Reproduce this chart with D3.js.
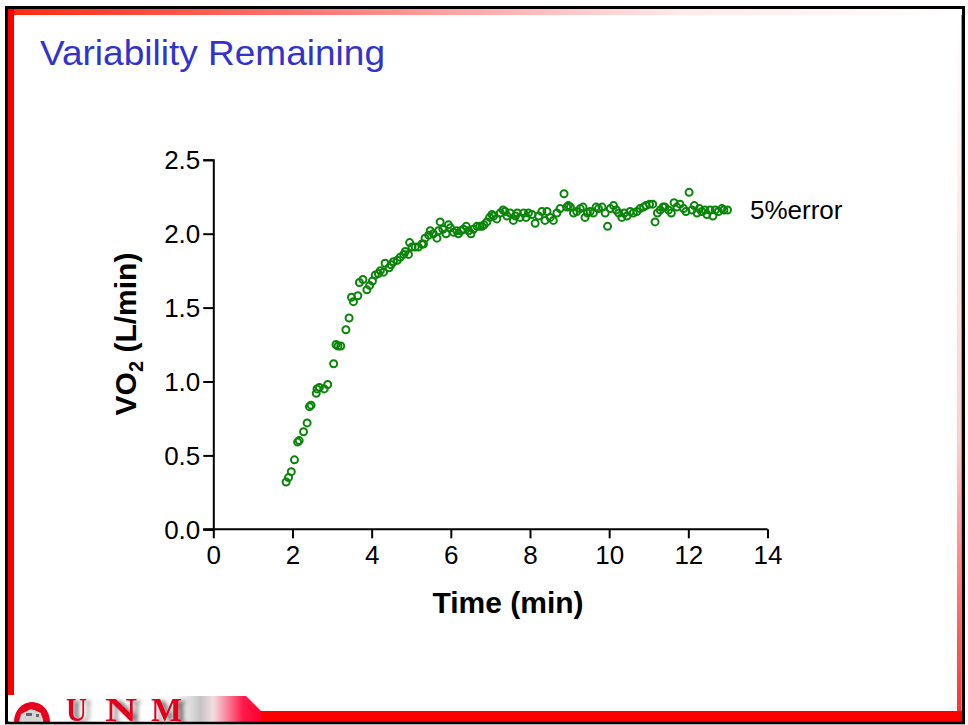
<!DOCTYPE html>
<html>
<head>
<meta charset="utf-8">
<script src="https://cdn.jsdelivr.net/npm/d3@7"></script>
<style>
  html, body { margin: 0; padding: 0; background: #fff; }
  svg { display: block; }
</style>
</head>
<body>
<svg id="slide" width="968" height="725"></svg>
<script>
// Breath-by-breath oxygen uptake during constant-load exercise
const timeMin = [
  1.84, 1.90, 1.97, 2.05, 2.13, 2.17, 2.28, 2.37, 2.43, 2.47,
  2.60, 2.62, 2.68, 2.80, 2.89, 3.04, 3.10, 3.15, 3.22, 3.35,
  3.43, 3.49, 3.54, 3.65, 3.69, 3.78, 3.88, 3.95, 4.02, 4.09,
  4.17, 4.22, 4.30, 4.34, 4.44, 4.49, 4.55, 4.65, 4.72, 4.81,
  4.85, 4.93, 4.96, 5.02, 5.10, 5.18, 5.27, 5.31, 5.35, 5.44,
  5.48, 5.56, 5.65, 5.69, 5.73, 5.80, 5.88, 5.94, 5.99, 6.07,
  6.15, 6.19, 6.26, 6.32, 6.39, 6.45, 6.51, 6.57, 6.66, 6.73,
  6.79, 6.84, 6.91, 6.98, 7.04, 7.08, 7.16, 7.25, 7.32, 7.37,
  7.42, 7.50, 7.58, 7.63, 7.68, 7.75, 7.84, 7.90, 7.96, 8.05,
  8.13, 8.22, 8.30, 8.38, 8.43, 8.51, 8.59, 8.68, 8.76, 8.86,
  8.93, 8.97, 9.02, 9.10, 9.18, 9.27, 9.34, 9.39, 9.45, 9.52,
  9.60, 9.67, 9.73, 9.82, 9.90, 9.96, 10.03, 10.11, 10.18, 10.24,
  10.32, 10.38, 10.45, 10.53, 10.61, 10.70, 10.78, 10.87, 10.93, 11.02,
  11.10, 11.16, 11.22, 11.29, 11.36, 11.41, 11.50, 11.57, 11.64, 11.71,
  11.79, 11.88, 11.94, 12.02, 12.09, 12.15, 12.22, 12.28, 12.34, 12.42,
  12.47, 12.55, 12.62, 12.68, 12.76, 12.85, 12.90, 12.99
];
const vo2 = [
  0.32, 0.35, 0.39, 0.47, 0.59, 0.60, 0.66, 0.72, 0.83, 0.84,
  0.92, 0.95, 0.96, 0.95, 0.98, 1.12, 1.25, 1.24, 1.24, 1.35,
  1.43, 1.57, 1.54, 1.58, 1.67, 1.69, 1.62, 1.65, 1.68, 1.72,
  1.73, 1.75, 1.74, 1.80, 1.77, 1.79, 1.81, 1.82, 1.84, 1.86,
  1.88, 1.86, 1.94, 1.91, 1.91, 1.91, 1.93, 1.93, 1.97, 1.99,
  2.02, 2.00, 1.97, 2.02, 2.08, 2.03, 2.00, 2.06, 2.04, 2.01,
  2.02, 2.00, 2.02, 2.03, 2.05, 2.02, 2.00, 2.03, 2.05, 2.05,
  2.05, 2.06, 2.08, 2.11, 2.13, 2.12, 2.10, 2.14, 2.16, 2.15,
  2.12, 2.14, 2.09, 2.12, 2.14, 2.11, 2.14, 2.11, 2.14, 2.13,
  2.07, 2.12, 2.15, 2.09, 2.15, 2.11, 2.09, 2.14, 2.17, 2.27,
  2.18, 2.19, 2.18, 2.14, 2.15, 2.17, 2.18, 2.11, 2.14, 2.15,
  2.14, 2.18, 2.17, 2.18, 2.14, 2.05, 2.17, 2.19, 2.16, 2.14,
  2.11, 2.14, 2.12, 2.15, 2.14, 2.15, 2.17, 2.18, 2.19, 2.20,
  2.20, 2.08, 2.14, 2.16, 2.18, 2.18, 2.16, 2.14, 2.21, 2.18,
  2.20, 2.17, 2.15, 2.28, 2.16, 2.19, 2.14, 2.17, 2.15, 2.16,
  2.13, 2.16, 2.12, 2.16, 2.15, 2.17, 2.16, 2.16
];
const xTicks = [0, 2, 4, 6, 8, 10, 12, 14];
const yTicks = [0.0, 0.5, 1.0, 1.5, 2.0, 2.5];

const svg = d3.select("#slide");
const defs = svg.append("defs");

// ---------- slide frame ----------
const topGrad = defs.append("linearGradient").attr("id", "topGrad")
  .attr("x1", "0").attr("x2", "1").attr("y1", "0").attr("y2", "0");
topGrad.append("stop").attr("offset", "0").attr("stop-color", "#ff2a10");
topGrad.append("stop").attr("offset", "0.35").attr("stop-color", "#ff8080");
topGrad.append("stop").attr("offset", "0.7").attr("stop-color", "#ffe8e8");
topGrad.append("stop").attr("offset", "1").attr("stop-color", "#ffffff");

const rightGrad = defs.append("linearGradient").attr("id", "rightGrad")
  .attr("x1", "0").attr("x2", "0").attr("y1", "0").attr("y2", "1");
rightGrad.append("stop").attr("offset", "0").attr("stop-color", "#ffffff");
rightGrad.append("stop").attr("offset", "0.6").attr("stop-color", "#ffd0d0");
rightGrad.append("stop").attr("offset", "1").attr("stop-color", "#ff2a2a");

// extruded shadow for the logo lettering
const shadow = defs.append("filter").attr("id", "letterShadow")
  .attr("x", "-20%").attr("y", "-20%").attr("width", "160%").attr("height", "160%");
shadow.append("feOffset").attr("in", "SourceAlpha").attr("dx", 5).attr("dy", 2).attr("result", "off");
shadow.append("feGaussianBlur").attr("in", "off").attr("stdDeviation", 2).attr("result", "blur");
shadow.append("feComponentTransfer").attr("in", "blur").attr("result", "soft")
  .append("feFuncA").attr("type", "linear").attr("slope", 0.55);
const merge = shadow.append("feMerge");
merge.append("feMergeNode").attr("in", "soft");
merge.append("feMergeNode").attr("in", "SourceGraphic");

svg.append("rect").attr("x", 0).attr("y", 0).attr("width", 968).attr("height", 725).attr("fill", "#fff");
// black outline
svg.append("rect").attr("x", 6.5).attr("y", 7.5).attr("width", 957).attr("height", 715.5)
  .attr("fill", "none").attr("stroke", "#000").attr("stroke-width", 3);
// top gradient band
svg.append("rect").attr("x", 9).attr("y", 9).attr("width", 953).attr("height", 6).attr("fill", "url(#topGrad)");
// left red band
svg.append("rect").attr("x", 8).attr("y", 9).attr("width", 6).attr("height", 686).attr("fill", "#ff0000");
// right band
svg.append("rect").attr("x", 957).attr("y", 15).attr("width", 5).attr("height", 707).attr("fill", "url(#rightGrad)");
svg.append("line").attr("x1", 961.5).attr("x2", 961.5).attr("y1", 15).attr("y2", 722)
  .attr("stroke", "#999").attr("stroke-width", 1);
// bottom red band
svg.append("rect").attr("x", 246).attr("y", 711).attr("width", 716).attr("height", 11).attr("fill", "#ff0000");

// ---------- logo strip ----------
const logoGrad = defs.append("linearGradient").attr("id", "logoGrad")
  .attr("x1", "0").attr("x2", "1").attr("y1", "0").attr("y2", "0");
logoGrad.append("stop").attr("offset", "0").attr("stop-color", "#ffffff");
logoGrad.append("stop").attr("offset", "0.66").attr("stop-color", "#ffffff");
logoGrad.append("stop").attr("offset", "0.76").attr("stop-color", "#c4c4c4");
logoGrad.append("stop").attr("offset", "0.81").attr("stop-color", "#f4dde2");
logoGrad.append("stop").attr("offset", "0.93").attr("stop-color", "#ff1848");
logoGrad.append("stop").attr("offset", "1").attr("stop-color", "#ff0030");
svg.append("path")
  .attr("d", "M9,696 L246,696 L261,711 L261,722 L9,722 Z")
  .attr("fill", "url(#logoGrad)");
// red dome with building
svg.append("path")
  .attr("d", "M14,722 A18,20 0 0 1 50,722 L43,722 A11,12 0 0 0 21,722 Z")
  .attr("fill", "#e8001c");
svg.append("path")
  .attr("d", "M19,722 L21,714 L31,709 L41,713 L42,722 Z")
  .attr("fill", "#d4d4d4");
svg.append("rect").attr("x", 26).attr("y", 713).attr("width", 6).attr("height", 3).attr("fill", "#666");
svg.append("rect").attr("x", 36).attr("y", 714).attr("width", 3).attr("height", 3).attr("fill", "#666");
// lettering
const letters = [["U", 66, 21], ["N", 105, 32], ["M", 151, 31]];
const logoText = svg.append("g").attr("filter", "url(#letterShadow)");
letters.forEach(([ch, lx, w]) => {
  logoText.append("text").attr("x", lx).attr("y", 721)
    .attr("font-family", "Liberation Serif, serif").attr("font-weight", "bold")
    .attr("font-size", 34).attr("fill", "#e0001c")
    .attr("textLength", w).attr("lengthAdjust", "spacingAndGlyphs").text(ch);
});
// outline edges over the logo strip
svg.append("line").attr("x1", 5).attr("x2", 965).attr("y1", 723).attr("y2", 723)
  .attr("stroke", "#000").attr("stroke-width", 2.5);
svg.append("line").attr("x1", 6.5).attr("x2", 6.5).attr("y1", 6).attr("y2", 724)
  .attr("stroke", "#000").attr("stroke-width", 3);
svg.append("rect").attr("x", 0).attr("y", 724.5).attr("width", 968).attr("height", 1).attr("fill", "#fff");

// ---------- title ----------
svg.append("text").attr("x", 40).attr("y", 65)
  .attr("font-family", "Liberation Sans, Arial, sans-serif")
  .attr("font-size", 35).attr("fill", "#3333cc")
  .attr("textLength", 345).attr("lengthAdjust", "spacingAndGlyphs")
  .text("Variability Remaining");

// ---------- chart ----------
const x = d3.scaleLinear().domain([0, 14]).range([213.3, 767.5]);
const y = d3.scaleLinear().domain([0, 2.5]).range([529.3, 159.8]);
const font = "Liberation Sans, Arial, sans-serif";

const xAxis = svg.append("g").attr("transform", `translate(0,${y(0)})`)
  .call(d3.axisBottom(x).tickValues(xTicks).tickFormat(d3.format("d")).tickSizeOuter(0).tickSize(9).tickPadding(7));
const yAxis = svg.append("g").attr("transform", `translate(${x(0)},0)`)
  .call(d3.axisLeft(y).tickValues(yTicks).tickFormat(d3.format(".1f")).tickSizeOuter(0).tickSize(10).tickPadding(3));

[xAxis, yAxis].forEach(g => {
  g.select(".domain").attr("stroke", "#000").attr("stroke-width", 2);
  g.selectAll(".tick line").attr("stroke", "#000").attr("stroke-width", 2);
  g.selectAll(".tick text").attr("font-family", font).attr("font-size", 26).attr("fill", "#000");
});
yAxis.selectAll(".tick text").attr("dy", "0.34em");
// x axis line reaches back to the y tick at zero
xAxis.select(".domain").attr("d", `M${x(0) - 10},0H${x(14)}`);

// markers
svg.append("g").selectAll("circle")
  .data(timeMin.map((t, i) => ({ t, v: vo2[i] })))
  .join("circle")
  .attr("cx", d => x(d.t))
  .attr("cy", d => y(d.v))
  .attr("r", 3.5)
  .attr("fill", "none")
  .attr("stroke", "#0a850a")
  .attr("stroke-width", 2);

// series label
svg.append("text").attr("x", 750).attr("y", 219)
  .attr("font-family", font).attr("font-size", 26).attr("fill", "#000")
  .text("5%error");

// axis titles
svg.append("text").attr("x", 508).attr("y", 613).attr("text-anchor", "middle")
  .attr("font-family", font).attr("font-weight", "bold").attr("font-size", 30)
  .text("Time (min)");

const yTitle = svg.append("text")
  .attr("transform", `translate(136,${334}) rotate(-90)`)
  .attr("text-anchor", "middle")
  .attr("font-family", font).attr("font-weight", "bold").attr("font-size", 30);
yTitle.append("tspan").text("VO");
yTitle.append("tspan").attr("font-size", 20).attr("dy", 7).text("2");
yTitle.append("tspan").attr("dy", -7).text(" (L/min)");
</script>
</body>
</html>
